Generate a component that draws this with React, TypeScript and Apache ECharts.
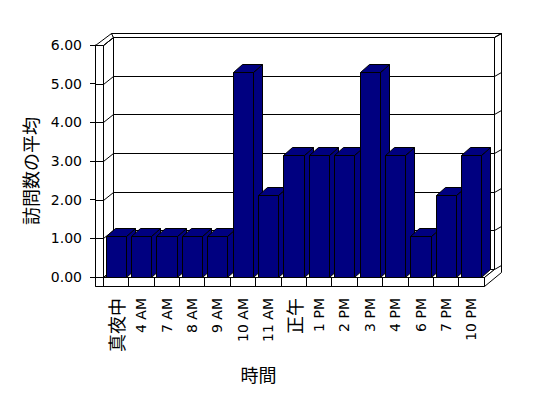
import React, { useEffect, useRef } from "react";
import * as echarts from "echarts";

const categories = ["真夜中", "4 AM", "7 AM", "8 AM", "9 AM", "10 AM", "11 AM", "正午", "1 PM", "2 PM", "3 PM", "4 PM", "6 PM", "7 PM", "10 PM"];
const averageVisits = [1.05, 1.05, 1.05, 1.05, 1.05, 5.3, 2.12, 3.15, 3.15, 3.15, 5.3, 3.15, 1.05, 2.12, 3.15];
const yTicks = [0, 1, 2, 3, 4, 5, 6];

const NAVY = "#000080";
const BOX_DX = 10;
const BOX_DY = -8;
const BAR_DX = 9;
const BAR_DY = -8;
const WALL = 8;
const FLOOR = 9;
const LATIN = "DejaVu Sans";
const CJK = "Noto Sans CJK JP";

const q = (v: number) => Math.round(v) + 0.5;
const pts = (arr: number[][]) => arr.map(([a, b]) => [q(a), q(b)]);
const edge = { stroke: "#000", lineWidth: 1 };

export default function App() {
  const ref = useRef<HTMLDivElement>(null);
  useEffect(() => {
    if (!ref.current) return;
    const chart = echarts.init(ref.current, null, { renderer: "svg" });
    const option: any = {
      animation: false,
      backgroundColor: "#fff",
      textStyle: { fontFamily: LATIN, color: "#000" },
      grid: { left: 103, right: 64, top: 45, bottom: 121 },
      xAxis: {
        type: "category",
        data: categories,
        boundaryGap: true,
        z: 10,
        name: "時間",
        nameLocation: "middle",
        nameGap: 88,
        nameTextStyle: { fontFamily: CJK, fontSize: 18, color: "#000", padding: [0, 70, 0, 0] },
        axisLine: { show: true, lineStyle: { color: "#000", width: 1 } },
        axisTick: { show: true, length: 9, interval: 0, lineStyle: { color: "#000", width: 1 } },
        axisLabel: {
          rotate: 90,
          margin: 21,
          interval: 0,
          fontFamily: LATIN,
          fontSize: 14,
          color: "#000",
          formatter: (v: string) => (/[^\x00-\x7f]/.test(v) ? `{c|${v}}` : v),
          rich: { c: { fontFamily: CJK, fontSize: 18, color: "#000" } },
        },
        splitLine: { show: false },
      },
      yAxis: {
        type: "value",
        min: 0,
        max: 6,
        interval: 1,
        offset: WALL,
        z: 10,
        name: "訪問数の平均",
        nameLocation: "middle",
        nameGap: 56,
        nameTextStyle: { fontFamily: CJK, fontSize: 18, color: "#000", padding: [0, 20, 0, 0] },
        axisLine: { show: true, lineStyle: { color: "#000", width: 1 } },
        axisTick: { show: true, length: 5, lineStyle: { color: "#000", width: 1 } },
        axisLabel: {
          margin: 13,
          fontFamily: LATIN,
          fontSize: 14,
          color: "#000",
          formatter: (v: number) => v.toFixed(2),
        },
        splitLine: { show: false },
      },
      series: [
        {
          type: "custom",
          name: "frame",
          coordinateSystem: "cartesian2d",
          clip: false,
          silent: true,
          z: 1,
          data: [[0, 0]],
          encode: { x: 0, y: 1 },
          renderItem: (params: any) => {
            const cs = params.coordSys;
            const x0 = cs.x, x1 = cs.x + cs.width, yT = cs.y, yB = cs.y + cs.height;
            const xw = x0 - WALL;
            const white = { fill: "#fff", ...edge };
            return {
              type: "group",
              children: [
                { type: "polygon", shape: { points: pts([[x0 + BOX_DX, yT + BOX_DY], [x1 + BOX_DX, yT + BOX_DY], [x1 + BOX_DX, yB + BOX_DY], [x0 + BOX_DX, yB + BOX_DY]]) }, style: white },
                { type: "polygon", shape: { points: pts([[x0, yT], [x0 + BOX_DX, yT + BOX_DY], [x0 + BOX_DX, yB + BOX_DY], [x0, yB]]) }, style: white },
                { type: "polygon", shape: { points: pts([[x0, yB], [x1, yB], [x1 + BOX_DX, yB + BOX_DY], [x0 + BOX_DX, yB + BOX_DY]]) }, style: white },
                { type: "polygon", shape: { points: pts([[xw, yT], [x0, yT], [x0 + BOX_DX, yT + BOX_DY], [xw + 16, yT - 12]]) }, style: white },
                { type: "polygon", shape: { points: pts([[xw + 16, yT - 12], [x0 + BOX_DX, yT + BOX_DY], [x1 + BOX_DX, yT + BOX_DY], [x1 + 17, yT - 12]]) }, style: white },
                { type: "polygon", shape: { points: pts([[x1 + BOX_DX, yT + BOX_DY], [x1 + 17, yT - 12], [x1 + 17, yB - 5], [x1, yB + FLOOR], [x1, yB], [x1 + BOX_DX, yB + BOX_DY]]) }, style: white },
                { type: "polygon", shape: { points: pts([[xw, yT], [x0, yT], [x0, yB + FLOOR], [xw, yB + FLOOR]]) }, style: white },
                { type: "polygon", shape: { points: pts([[xw, yB], [x1, yB], [x1, yB + FLOOR], [xw, yB + FLOOR]]) }, style: white },
              ],
            };
          },
        },
        {
          type: "custom",
          name: "grid",
          coordinateSystem: "cartesian2d",
          clip: false,
          silent: true,
          z: 2,
          data: yTicks.map((v) => [0, v]),
          encode: { x: 0, y: 1 },
          renderItem: (params: any, api: any) => {
            const cs = params.coordSys;
            const x0 = cs.x, x1 = cs.x + cs.width;
            const xw = x0 - WALL;
            const y = api.coord([0, api.value(1)])[1];
            return {
              type: "polyline",
              shape: { points: pts([[xw, y], [x0, y], [x0 + BOX_DX, y + BOX_DY], [x1 + BOX_DX, y + BOX_DY], [x1 + 17, y - 12]]) },
              style: { fill: "none", ...edge },
            };
          },
        },
        {
          type: "custom",
          name: "訪問数の平均",
          coordinateSystem: "cartesian2d",
          clip: false,
          z: 3,
          data: averageVisits.map((v, i) => [i, v]),
          encode: { x: 0, y: 1 },
          renderItem: (params: any, api: any) => {
            const i = api.value(0);
            const v = api.value(1);
            const [cx, yTop] = api.coord([i, v]);
            const yBase = api.coord([i, 0])[1];
            const w = api.size([1, 0])[0] * 0.79;
            const l = cx - w / 2, r = cx + w / 2;
            const st = { fill: NAVY, ...edge };
            return {
              type: "group",
              children: [
                { type: "polygon", shape: { points: pts([[r, yTop], [r + BAR_DX, yTop + BAR_DY], [r + BAR_DX, yBase + BAR_DY], [r, yBase]]) }, style: st },
                { type: "polygon", shape: { points: pts([[l, yTop], [r, yTop], [r + BAR_DX, yTop + BAR_DY], [l + BAR_DX, yTop + BAR_DY]]) }, style: st },
                { type: "polygon", shape: { points: pts([[l, yTop], [r, yTop], [r, yBase], [l, yBase]]) }, style: st },
              ],
            };
          },
        },
      ],
    };
    chart.setOption(option);
    return () => chart.dispose();
  }, []);
  return <div ref={ref} style={{ position: "absolute", left: 0, top: 0, width: 548, height: 398 }} />;
}
